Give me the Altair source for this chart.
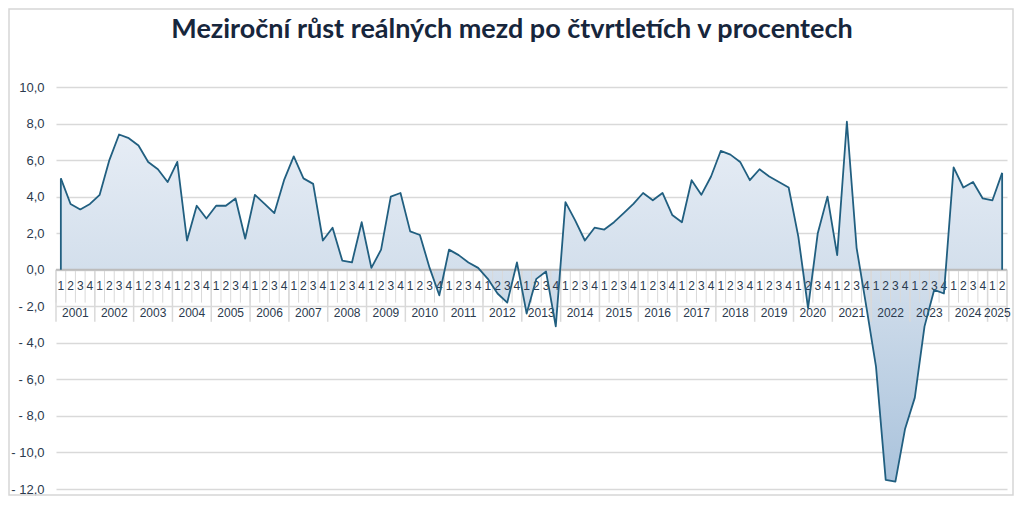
import altair as alt
import pandas as pd

# ---- data -------------------------------------------------------------
title_text = "Meziroční růst reálných mezd po čtvrtletích v procentech"

years = [str(y) for y in range(2001, 2026)]
quarters_per_year = [4] * 24 + [2]

values = [
    5.0, 3.6, 3.3, 3.6,      # 2001
    4.1, 6.0, 7.4, 7.2,      # 2002
    6.8, 5.9, 5.5, 4.8,      # 2003
    5.9, 1.6, 3.5, 2.8,      # 2004
    3.5, 3.5, 3.9, 1.7,      # 2005
    4.1, 3.6, 3.1, 4.9,      # 2006
    6.2, 5.0, 4.7, 1.6,      # 2007
    2.3, 0.5, 0.4, 2.6,      # 2008
    0.1, 1.1, 4.0, 4.2,      # 2009
    2.1, 1.9, 0.1, -1.4,     # 2010
    1.1, 0.8, 0.4, 0.1,      # 2011
    -0.5, -1.3, -1.8, 0.4,   # 2012
    -2.4, -0.5, -0.1, -3.1,  # 2013
    3.7, 2.7, 1.6, 2.3,      # 2014
    2.2, 2.6, 3.1, 3.6,      # 2015
    4.2, 3.8, 4.2, 3.0,      # 2016
    2.6, 4.9, 4.1, 5.1,      # 2017
    6.5, 6.3, 5.9, 4.9,      # 2018
    5.5, 5.1, 4.8, 4.5,      # 2019
    1.8, -2.1, 2.0, 4.0,     # 2020
    0.8, 8.1, 1.2, -2.0,     # 2021
    -5.3, -11.5, -11.6, -8.7,  # 2022
    -7.0, -3.1, -1.1, -1.3,  # 2023
    5.6, 4.5, 4.8, 3.9,      # 2024
    3.8, 5.3,                # 2025
]

y_ticks = [-12, -10, -8, -6, -4, -2, 0, 2, 4, 6, 8, 10]

# ---- tables built from the lists ---------------------------------------
quarter_labels = []
year_rows = []
start = 0
for y, n in zip(years, quarters_per_year):
    quarter_labels += [str(q) for q in range(1, n + 1)]
    year_rows.append({"year": y, "center": start + (n - 1) / 2, "sep": start - 0.5, "zero": 0})
    start += n
n_pts = len(values)
df = pd.DataFrame({"idx": list(range(n_pts)), "value": values, "q": quarter_labels})
df["zero"] = 0
years_df = pd.DataFrame(year_rows)
qsep_df = pd.DataFrame({"pos": [i - 0.5 for i in range(n_pts + 1)]})
qsep_df["top"] = 0
qsep_df["bot"] = -1.8
ysep_df = pd.DataFrame({"pos": list(years_df["sep"]) + [n_pts - 0.5]})
ysep_df["top"] = 0
ysep_df["bot"] = -2.85
axis_df = pd.DataFrame({"a": [-0.5], "b": [n_pts - 0.5], "zero": [0]})
edge_df = df.iloc[[0, n_pts - 1]].reset_index(drop=True)

# ---- styling -------------------------------------------------------------
LINE = "#215f80"
TXT = "#2b3a4e"
GRID = "#d9d9d9"
FONT = "Liberation Sans"

x_scale = alt.Scale(domain=[-0.5, n_pts - 0.5], nice=False, zero=False)
y_scale = alt.Scale(domain=[-12, 10], nice=False)

label_expr = (
    "datum.value < 0 ? '- ' + replace(format(-datum.value, '.1f'), '.', ',')"
    " : replace(format(datum.value, '.1f'), '.', ',')"
)
y_axis = alt.Axis(
    values=y_ticks, title=None, domain=False, ticks=False,
    labelExpr=label_expr, labelFontSize=13, labelFont=FONT,
    labelColor=TXT, labelPadding=12, grid=True, gridColor=GRID,
    gridWidth=1.5,
)


def YF(field):
    return alt.Y(field, scale=y_scale, axis=y_axis)


def XF(field):
    return alt.X(field, scale=x_scale, axis=None)


base = alt.Chart(df)

area = base.mark_area(
    fill=alt.Gradient(
        gradient="linear",
        stops=[
            alt.GradientStop(color="#e8eef6", offset=0),
            alt.GradientStop(color="#d3dfec", offset=0.41),
            alt.GradientStop(color="#aac3dc", offset=1),
        ],
        x1=0, x2=0, y1=0, y2=1,
    )
).encode(x=XF("idx:Q"), y=YF("value:Q"), y2="zero:Q")

qsep = alt.Chart(qsep_df).mark_rule(color=GRID, strokeWidth=1).encode(
    x=XF("pos:Q"), y=YF("top:Q"), y2="bot:Q",
)
ysep = alt.Chart(ysep_df).mark_rule(color=GRID, strokeWidth=1.5).encode(
    x=XF("pos:Q"), y=YF("top:Q"), y2="bot:Q",
)

zero_rule = alt.Chart(axis_df).mark_rule(color="#bcbcbc", strokeWidth=2).encode(
    x=XF("a:Q"), x2="b:Q", y=YF("zero:Q"),
)

q_text = base.mark_text(
    font=FONT, fontSize=12, color=TXT, baseline="middle", align="center", dy=16.5
).encode(x=XF("idx:Q"), y=YF("zero:Q"), text="q:N")

y_text = alt.Chart(years_df).mark_text(
    font=FONT, fontSize=12, color=TXT, baseline="middle", align="center", dy=43
).encode(x=XF("center:Q"), y=YF("zero:Q"), text="year:N")

line = base.mark_line(color=LINE, strokeWidth=1.8, strokeJoin="round").encode(
    x=XF("idx:Q"), y=YF("value:Q")
)

edges = alt.Chart(edge_df).mark_rule(color=LINE, strokeWidth=1.8).encode(
    x=XF("idx:Q"), y=YF("value:Q"), y2="zero:Q",
)

title = alt.Chart(pd.DataFrame({"t": [title_text]})).mark_text(
    font="Lato", fontSize=27, fontWeight="bold", color="#17263c",
    align="center", baseline="middle",
).encode(text="t:N", x=alt.value(456), y=alt.value(-57))

border = alt.Chart(pd.DataFrame({"t": [0]})).mark_rect(
    filled=False, stroke="#d6d6d6", strokeWidth=1.5
).encode(x=alt.value(-47), x2=alt.value(957), y=alt.value(-78), y2=alt.value(408))

chart = alt.layer(
    area, qsep, ysep, zero_rule, q_text, y_text, line, edges, title, border
).properties(
    width=951, height=402,
    autosize=alt.AutoSizeParams(type="none"),
    padding={"left": 48, "top": 79, "right": 8, "bottom": 9},
    background="white",
).configure_view(stroke=None)

chart.save("out.html", embed_options={"renderer": "svg", "actions": False})
